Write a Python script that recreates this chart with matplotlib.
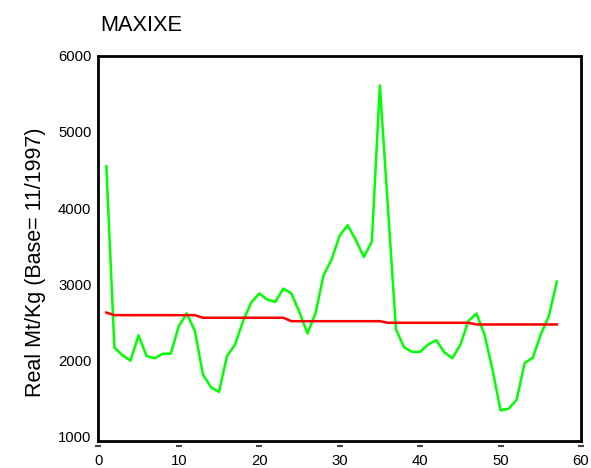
import matplotlib
matplotlib.use("Agg")
import matplotlib.pyplot as plt
import matplotlib.transforms as mtransforms

plt.rcParams['font.family'] = ['Liberation Sans', 'DejaVu Sans']

title = "MAXIXE"
ylabel = "Real Mt/Kg (Base= 11/1997)"

x = list(range(1, 58))
green = [4550, 2170, 2070, 2000, 2330, 2060, 2030, 2090, 2090, 2450,
         2620, 2390, 1820, 1650, 1590, 2060, 2210, 2520, 2760, 2880,
         2800, 2770, 2945, 2880, 2636, 2355, 2620, 3120, 3325, 3640,
         3776, 3585, 3360, 3560, 5609, 4009, 2410, 2175, 2114, 2114,
         2211, 2267, 2109, 2030, 2206, 2518, 2618, 2342, 1882, 1346,
         1368, 1487, 1970, 2036, 2342, 2583, 3036]
red = [2630] + [2596] * 11 + [2562] * 11 + [2517] * 12 + [2496] * 11 + [2474] * 11

xticks = [0, 10, 20, 30, 40, 50, 60]
yticks = [1000, 2000, 3000, 4000, 5000, 6000]

fig = plt.figure(figsize=(5.91, 4.68), dpi=100)
ax = fig.add_axes([98.3 / 591, 1 - 441 / 468, (581 - 98.3) / 591, (441 - 55.7) / 468])

ax.plot(x, green, color='#00ff00', lw=1.8)
ax.plot(x, red, color='#ff0000', lw=1.8)

ax.set_xlim(0, 60)
ax.set_ylim(945, 6000)
ax.set_xticks(xticks)
ax.set_yticks(yticks)
ax.tick_params(axis='x', length=0, pad=9.5, labelsize=10.7)
ax.tick_params(axis='y', length=0, pad=5, labelsize=10.7)
for s in ax.spines.values():
    s.set_linewidth(2)
    s.set_color('black')

# small dash tick marks just below the x axis
trans = mtransforms.blended_transform_factory(ax.transData, ax.transAxes)
ax.plot(xticks, [-0.012] * len(xticks), linestyle='none', marker='_',
        markersize=4, markeredgewidth=1.5, color='#444444',
        transform=trans, clip_on=False)

ax.set_ylabel(ylabel, fontsize=15.5)
ax.yaxis.set_label_coords(-0.108, 0.465)
fig.text(100 / 591, 1 - 31 / 468, title, fontsize=15.7, ha='left', va='baseline')

fig.savefig("out.png", dpi=100)
